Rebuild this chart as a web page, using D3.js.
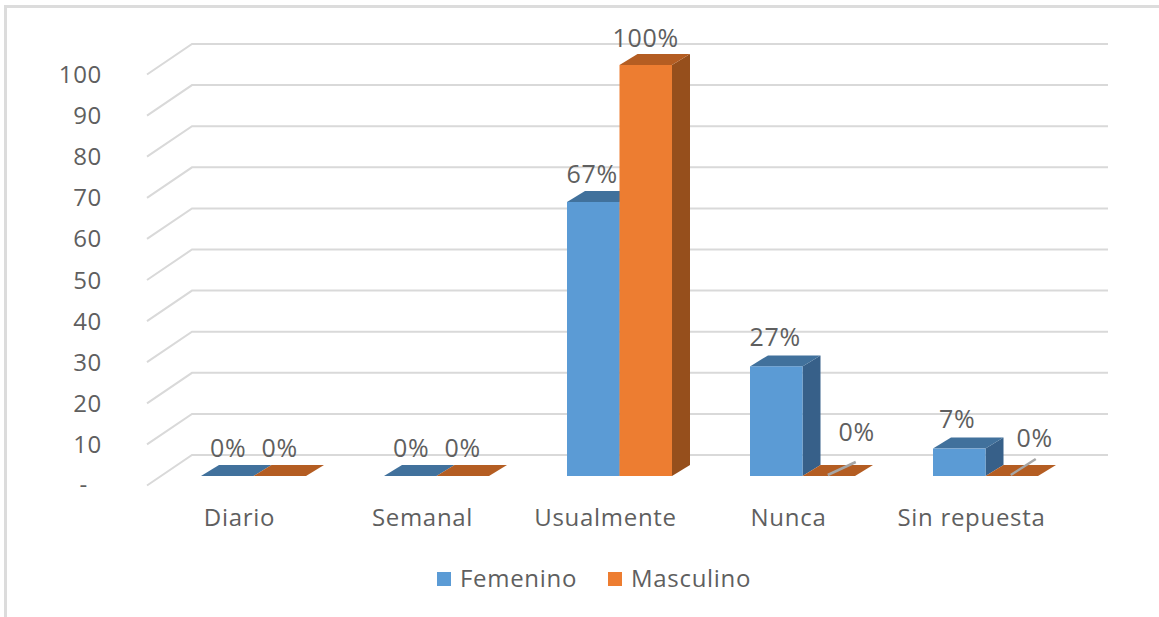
<!DOCTYPE html>
<html><head><meta charset="utf-8">
<script src="https://cdnjs.cloudflare.com/ajax/libs/d3/7.8.5/d3.min.js"></script>
<style>html,body{margin:0;padding:0;background:#fff;overflow:hidden}text{font-family:"Open Sans","Noto Sans",sans-serif;fill:#5f5f5f;letter-spacing:.7px}</style>
</head><body><svg id="c" width="1159" height="617"></svg>
<script>
const categories = ["Diario","Semanal","Usualmente","Nunca","Sin repuesta"];
const seriesNames = ["Femenino","Masculino"];
const femenino = [0,0,66.67,26.67,6.67];
const masculino = [0,0,100,0,0];
const ticks = [0,10,20,30,40,50,60,70,80,90,100];
const colors = {Femenino:{front:"#5b9bd5",top:"#41719c",side:"#376089"},Masculino:{front:"#ed7d31",top:"#b45d22",side:"#964f1c"}};
// label placement relative to the top centre of each bar front face
const labelOffsets = {Femenino:[[1,-19],[1,-19],[-1,-19],[-1,-20],[-2,-21]],Masculino:[[0,-19],[0,-19],[0,-18],[28,-35],[23,-29]]};
const leaders = [null,null,null,[-1,-1,27,-14],[-1,-1,24,-17]];
const fontSize = 24;
const labelFontSize = 25;

const svg = d3.select("#c");
const x0 = d3.scaleBand().domain(categories).range([162,1077]).paddingInner(78/183).paddingOuter(39/183);
const x1 = d3.scaleBand().domain(seriesNames).range([0,x0.bandwidth()]);
const y = d3.scaleLinear().domain([0,100]).range([476,65]);
const depth = {x:18,y:11};

// frame
svg.append("path").attr("d","M5.5,617V6.5H1159").attr("fill","none").attr("stroke","#dcdcdc").attr("stroke-width",3);

// gridlines on floor / back wall
const grid = svg.append("g").attr("fill","none").attr("stroke","#d9d9d9").attr("stroke-width",2);
ticks.forEach(t=>{
  grid.append("path").attr("d",`M147,${y(t)+9.5}L192,${y(t)-21}H1108`);
});

// y tick labels
svg.append("g").selectAll("text").data(ticks).join("text")
  .attr("x",t=>t===0?88:102).attr("y",t=>t===0?y(t)+17:y(t)+18).attr("text-anchor","end").attr("font-size",fontSize)
  .text(t=>t===0?"-":t);

// bars
const rows = seriesNames.map((s,si)=>categories.map((c,i)=>({s,c,i,v:(si?masculino:femenino)[i]})));
rows.forEach(r=>{
  const g = svg.append("g");
  r.forEach(d=>{
    const xl = x0(d.c)+x1(d.s), w = x1.bandwidth(), yt = y(d.v), yb = y(0), col = colors[d.s];
    g.append("path").attr("fill",col.side).attr("d",`M${xl+w},${yt}l${depth.x},${-depth.y}V${yb-depth.y}L${xl+w},${yb}Z`);
    g.append("path").attr("fill",col.top).attr("d",`M${xl},${yt}l${depth.x},${-depth.y}h${w}l${-depth.x},${depth.y}Z`);
    if(d.v>0) g.append("rect").attr("x",xl).attr("y",yt).attr("width",w).attr("height",yb-yt).attr("fill",col.front);
  });
});

// leader lines
categories.forEach((c,i)=>{
  const l = leaders[i]; if(!l) return;
  const cx = x0(c)+x1("Masculino")+x1.bandwidth()/2;
  svg.append("line").attr("x1",cx+l[0]).attr("y1",y(0)+l[1]).attr("x2",cx+l[2]).attr("y2",y(0)+l[3])
    .attr("stroke","#a6a6a6").attr("stroke-width",2.5);
});

// data labels
rows.forEach(r=>r.forEach(d=>{
  const o = labelOffsets[d.s][d.i];
  svg.append("text").attr("x",x0(d.c)+x1(d.s)+x1.bandwidth()/2+o[0]).attr("y",y(d.v)+o[1])
    .attr("text-anchor","middle").attr("font-size",labelFontSize).text(Math.round(d.v)+"%");
}));

// category labels
svg.append("g").selectAll("text").data(categories).join("text")
  .attr("x",c=>x0(c)+x0.bandwidth()/2+(-14)).attr("y",526).attr("text-anchor","middle")
  .attr("font-size",fontSize).text(c=>c);

// legend
const legendX = d3.scaleOrdinal().domain(seriesNames).range([437,608]);
const lg = svg.append("g").selectAll("g").data(seriesNames).join("g").attr("transform",s=>`translate(${legendX(s)},0)`);
lg.append("rect").attr("y",572).attr("width",14).attr("height",14).attr("fill",s=>colors[s].front);
lg.append("text").attr("x",23).attr("y",587).attr("font-size",fontSize).text(s=>s);
</script></body></html>
